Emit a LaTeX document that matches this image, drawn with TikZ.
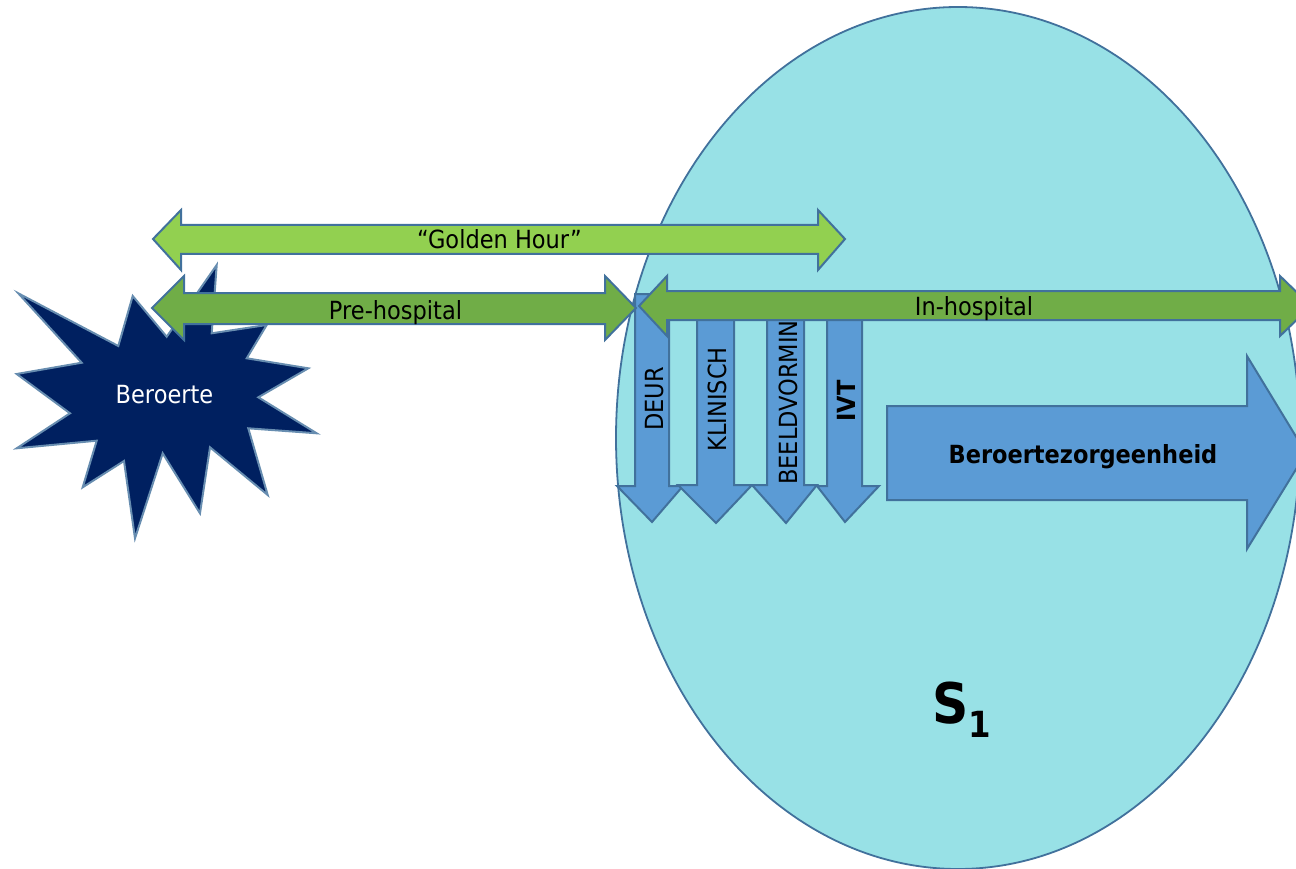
\documentclass[tikz,border=0pt]{standalone}
\usepackage{fontspec}
\setmainfont{DejaVu Sans}[FakeStretch=0.9]
\definecolor{bordercol}{HTML}{41719C}
\definecolor{ellfill}{HTML}{98E1E6}
\definecolor{goldgreen}{HTML}{92D050}
\definecolor{phasegreen}{HTML}{70AD47}
\definecolor{arrowblue}{HTML}{5B9BD5}
\definecolor{starfill}{HTML}{002060}
\tikzset{
  shapeline/.style={draw=bordercol, line width=2pt, line join=miter},
  golden/.style={shapeline, fill=goldgreen},
  phase/.style={shapeline, fill=phasegreen},
  bluearrow/.style={shapeline, fill=arrowblue},
  lbl/.style={font=\fontsize{25}{29}\selectfont, inner sep=0pt, text=black},
  vlbl/.style={lbl, rotate=90},
}
\begin{document}
\begin{tikzpicture}[x=1pt, y=-1pt]
\useasboundingbox (0,0) rectangle (1296,869);
\clip (0,0) rectangle (1296,869);
% hospital ellipse
\draw[shapeline, fill=ellfill, line width=1.8pt] (958,438) ellipse [x radius=342, y radius=431];
% golden hour
\draw[golden] (153,239) -- (181,210) -- (181,225) -- (818,225) -- (818,210) -- (845,239)
  -- (818,270) -- (818,254) -- (181,254) -- (181,270) -- cycle;
\node[lbl, anchor=base] (golden) at (499.5,249) {“Golden Hour”};
% care steps
\draw[bluearrow] (635,294) -- (669,294) -- (669,486) -- (683,486) -- (652,522) -- (617,486) -- (635,486) -- cycle;
\node[vlbl, anchor=base] (deur) at (663,399) {DEUR};
\draw[bluearrow] (697,294) -- (734,294) -- (734,485) -- (752,485) -- (716,523) -- (678,485) -- (697,485) -- cycle;
\node[vlbl, anchor=base] (klinisch) at (726,399.5) {KLINISCH};
\draw[bluearrow] (767,294) -- (804,294) -- (804,485) -- (817,485) -- (786,523) -- (752,485) -- (767,485) -- cycle;
\node[vlbl, anchor=base west] (beeld) at (797,485) {BEELDVORMING};
\draw[bluearrow] (827,294) -- (862,294) -- (862,486) -- (879,486) -- (845,522) -- (817,486) -- (827,486) -- cycle;
\node[vlbl, anchor=base, font=\fontsize{25}{29}\selectfont\bfseries] (ivt) at (855,401) {IVT};
% stroke unit arrow
\draw[bluearrow] (887,406) -- (1247,406) -- (1247,356) -- (1306,453) -- (1247,549) -- (1247,500) -- (887,500) -- cycle;
\node[lbl, anchor=base, font=\fontsize{25}{29}\selectfont\bfseries] (unit) at (1083,463) {Beroertezorgeenheid};
% stroke star
\draw[shapeline, fill=starfill, draw=bordercol!80!white]
  (18.3,293.3) -- (118.3,346) -- (132.7,296) -- (166.7,336.7) -- (216.7,265) -- (211.7,333.3)
  -- (266.7,325) -- (246.7,358.3) -- (308.3,368.3) -- (258.3,397.3) -- (316.7,433.3) -- (248.3,428.3)
  -- (267.7,495) -- (210,447.3) -- (200,513.3) -- (162.7,453.3) -- (135,538.3) -- (124,461)
  -- (82.7,487.3) -- (96.7,440.7) -- (16.7,448.3) -- (70,413.3) -- (16.7,374) -- (81.7,362.7) -- cycle;
\node[lbl, anchor=base, text=white] (beroerte) at (164.5,403) {Beroerte};
% pre-hospital
\draw[phase] (152,308) -- (184,276) -- (184,293) -- (605,293) -- (605,276) -- (636,308)
  -- (605,340) -- (605,324) -- (184,324) -- (184,340) -- cycle;
\node[lbl, anchor=base] (pre) at (395.5,319) {Pre-hospital};
% in-hospital
\draw[phase] (639,306) -- (667,276) -- (667,291) -- (1280,291) -- (1280,276) -- (1311,306)
  -- (1280,336) -- (1280,320) -- (667,320) -- (667,336) -- cycle;
\node[lbl, anchor=base] (in) at (974,315) {In-hospital};
% S1
\node[inner sep=0pt, anchor=base west, font=\fontsize{56}{60}\selectfont\bfseries] (s1) at (932,723)
  {S\raisebox{-14pt}{\fontsize{36}{40}\selectfont\bfseries 1}};
\end{tikzpicture}
\end{document}
